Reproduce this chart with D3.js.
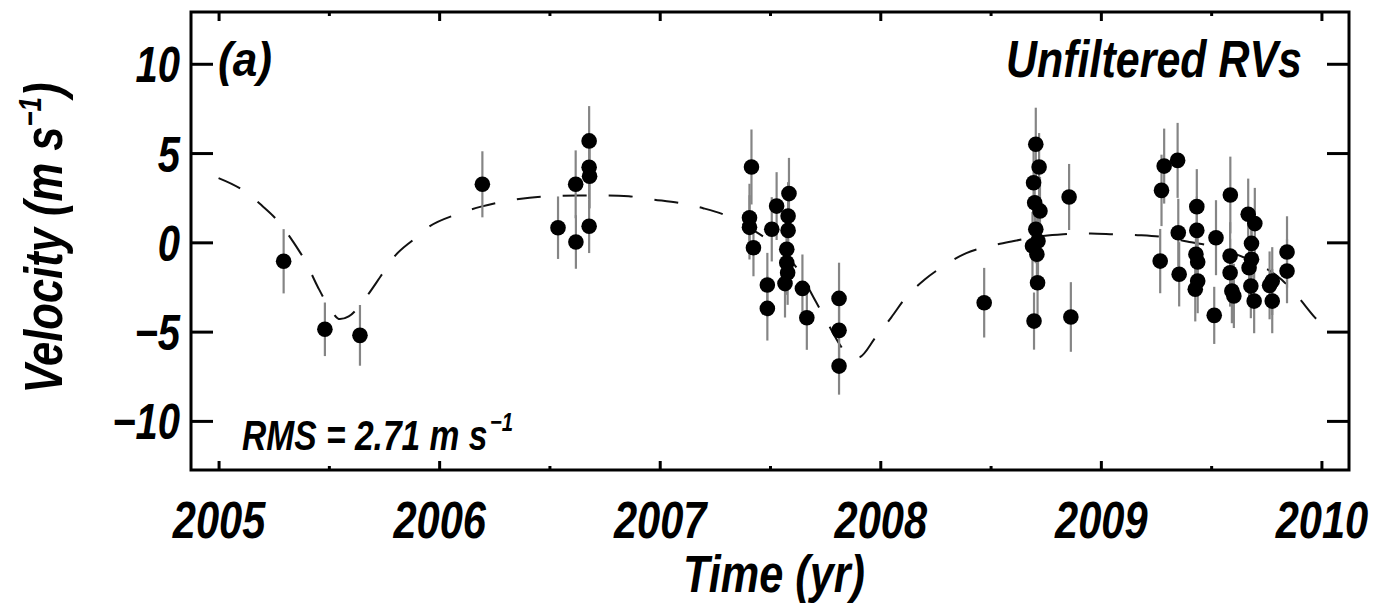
<!DOCTYPE html>
<html>
<head>
<meta charset="utf-8">
<script src="https://cdn.jsdelivr.net/npm/d3@7"></script>
<style>
  html, body { margin: 0; padding: 0; background: #fff; }
  svg text { font-family: "Liberation Sans", Arial, "Helvetica", sans-serif; font-weight: bold; font-style: italic; fill: #000; }
</style>
</head>
<body>
<svg id="chart" width="1380" height="606"></svg>
<script>
// ---- Data ----
const times = [
  2005.295, 2005.482, 2005.641, 2006.196,
  2006.539, 2006.619, 2006.620, 2006.680, 2006.680, 2006.682, 2006.680,
  2007.416, 2007.407, 2007.407, 2007.425, 2007.488, 2007.488, 2007.530, 2007.508,
  2007.586, 2007.582, 2007.582, 2007.576, 2007.576, 2007.580, 2007.568, 2007.647, 2007.667,
  2007.813, 2007.813, 2007.813,
  2008.471, 2008.705, 2008.720, 2008.695, 2008.700, 2008.724, 2008.705, 2008.715, 2008.690,
  2008.710, 2008.713, 2008.697, 2008.856, 2008.864,
  2009.287, 2009.275, 2009.269, 2009.348, 2009.351, 2009.355, 2009.435, 2009.435, 2009.431,
  2009.439, 2009.439, 2009.428, 2009.522, 2009.514, 2009.587, 2009.586, 2009.586, 2009.594,
  2009.603, 2009.668, 2009.698, 2009.683, 2009.683, 2009.672, 2009.680, 2009.695, 2009.777,
  2009.765, 2009.777, 2009.844, 2009.844
];
const velocities = [
  -1.06, -4.87, -5.21, 3.25,
  0.82, 3.25, 0.02, 5.68, 4.20, 3.70, 0.90,
  4.22, 1.38, 0.84, -0.30, -2.39, -3.70, 2.03, 0.73,
  2.73, 1.47, 0.67, -0.39, -1.14, -1.70, -2.31, -2.58, -4.22,
  -3.14, -4.93, -6.93,
  -3.38, 5.49, 4.22, 3.34, 2.22, 1.76, 0.73, 0.07, -0.20,
  -0.67, -2.26, -4.41, 2.54, -4.18,
  4.27, 2.91, -1.05, 4.59, 0.54, -1.79, 2.00, 0.67, -0.67,
  -1.10, -2.17, -2.63, 0.26, -4.09, 2.65, -0.77, -1.70, -2.73,
  -3.00, 1.57, 1.05, -0.06, -0.95, -1.42, -2.45, -3.29, -2.17,
  -2.41, -3.29, -0.54, -1.61
];
const errors = [
  1.8, 1.5, 1.7, 1.85,
  1.75, 1.9, 1.5, 1.95, 1.8, 1.8, 1.5,
  2.1, 1.9, 1.8, 1.6, 1.8, 1.8, 1.9, 1.8,
  2.0, 1.9, 1.9, 1.8, 1.8, 1.8, 1.9, 1.9, 1.8,
  2.0, 1.8, 1.6,
  1.95, 2.05, 1.9, 1.9, 1.9, 1.9, 1.9, 1.9, 1.9,
  1.9, 1.9, 1.6, 1.85, 1.95,
  2.1, 2.0, 1.8, 2.1, 1.9, 1.8, 2.1, 1.9, 1.8,
  1.8, 1.8, 1.8, 2.1, 1.6, 2.15, 1.9, 1.9, 1.8,
  1.8, 2.0, 2.0, 1.9, 1.8, 1.8, 1.8, 1.8, 1.9,
  1.9, 1.8, 2.0, 1.8
];
// Orbit model curve
const modelTimes = [
  2005.00, 2005.10, 2005.19, 2005.27, 2005.34, 2005.395, 2005.45, 2005.50, 2005.55, 2005.59,
  2005.667, 2005.735, 2005.794, 2005.885, 2005.95, 2006.08, 2006.19, 2006.30, 2006.41, 2006.53,
  2006.63, 2006.755, 2006.86, 2006.97, 2007.09, 2007.20, 2007.31, 2007.435, 2007.50, 2007.625,
  2007.707, 2007.76, 2007.82, 2007.85, 2007.90, 2007.98, 2008.05, 2008.115, 2008.20, 2008.29,
  2008.39, 2008.50, 2008.60, 2008.73, 2008.83, 2008.955, 2009.06, 2009.18, 2009.28, 2009.41,
  2009.50, 2009.62, 2009.71, 2009.82, 2009.89, 2009.97, 2010.00
];
const modelVelocities = [
  3.6, 3.0, 2.13, 1.18, 0.0, -1.1, -2.5, -3.6, -4.3, -4.15,
  -3.1, -1.9, -0.84, 0.17, 0.84, 1.57, 2.0, 2.3, 2.5, 2.6,
  2.63, 2.63, 2.58, 2.4, 2.2, 1.9, 1.46, 0.6, 0.05, -1.5,
  -3.3, -4.5, -5.8, -6.3, -6.45, -5.3, -4.2, -3.1, -2.1, -1.3,
  -0.6, -0.2, 0.06, 0.34, 0.45, 0.5, 0.45, 0.4, 0.3, 0.0,
  -0.2, -0.7, -1.2, -2.1, -3.0, -4.2, -4.6
];
const xTicks = [2005, 2006, 2007, 2008, 2009, 2010];
const xMinorTicks = [2005.5, 2006.5, 2007.5, 2008.5, 2009.5];
const yTicks = [-10, -5, 0, 5, 10];
const yTickLabels = ["\u221210", "\u22125", "0", "5", "10"];

// ---- Layout ----
const svg = d3.select("#chart");
const L = 191, R = 1349, T = 12, B = 470;
const x = d3.scaleLinear().domain([2004.875, 2010.125]).range([L, R]);
const y = d3.scaleLinear().domain([-12.75, 12.9]).range([B, T]);
const SQ = 0.8; // horizontal squeeze for a condensed look

// place a text at (px,py), squeezed horizontally so that its width equals w
function placeFit(sel, px, py, w, extra) {
  const nat = sel.node().getComputedTextLength();
  const k = w / nat;
  sel.attr("x", 0).attr("y", 0)
    .attr("transform", `translate(${px},${py})${extra || ""} scale(${k.toFixed(4)},1)`);
  return k;
}

// model curve
svg.append("path")
  .datum(modelTimes.map((t, i) => [t, modelVelocities[i]]))
  .attr("fill", "none")
  .attr("stroke", "#111")
  .attr("stroke-width", 2)
  .attr("stroke-dasharray", "24,22")
  .attr("d", d3.line().x(d => x(d[0])).y(d => y(d[1])).curve(d3.curveMonotoneX));

const pts = times.map((t, i) => ({ t, v: velocities[i], e: errors[i] }));

// error bars
svg.append("g").selectAll("line").data(pts).join("line")
  .attr("x1", d => x(d.t)).attr("x2", d => x(d.t))
  .attr("y1", d => y(d.v - d.e)).attr("y2", d => y(d.v + d.e))
  .attr("stroke", "#858585").attr("stroke-width", 2.2);

// points
svg.append("g").selectAll("circle").data(pts).join("circle")
  .attr("cx", d => x(d.t)).attr("cy", d => y(d.v)).attr("r", 7.8)
  .attr("fill", "#000");

// axes (ticks inward)
const axisStyle = g => {
  g.select(".domain").remove();
  g.selectAll(".tick line").attr("stroke", "#000").attr("stroke-width", 3);
};
svg.append("g").attr("transform", `translate(0,${B})`)
  .call(d3.axisBottom(x).tickValues(xTicks).tickSize(-9).tickFormat(d3.format("d")))
  .call(axisStyle)
  .call(g => g.selectAll(".tick text").attr("y", 68).attr("dy", 0)
    .attr("transform", `scale(${SQ},1)`)
    .style("font-size", "52px").attr("font-size", null).attr("font-family", null));
svg.append("g").attr("transform", `translate(0,${B})`)
  .call(d3.axisBottom(x).tickValues(xMinorTicks).tickSize(-4).tickFormat(""))
  .call(axisStyle);
svg.append("g").attr("transform", `translate(0,${T})`)
  .call(d3.axisTop(x).tickValues(xTicks).tickSize(-9).tickFormat(""))
  .call(axisStyle);
svg.append("g").attr("transform", `translate(0,${T})`)
  .call(d3.axisTop(x).tickValues(xMinorTicks).tickSize(-4).tickFormat(""))
  .call(axisStyle);
svg.append("g").attr("transform", `translate(${L},0)`)
  .call(d3.axisLeft(y).tickValues(yTicks).tickSize(-22).tickFormat((d, i) => yTickLabels[i]))
  .call(axisStyle)
  .call(g => g.selectAll(".tick text").attr("x", -11 / SQ).attr("dy", "0.36em")
    .attr("transform", `scale(${SQ},1)`)
    .style("font-size", "50px").attr("font-size", null).attr("font-family", null));
svg.append("g").attr("transform", `translate(${R},0)`)
  .call(d3.axisRight(y).tickValues(yTicks).tickSize(-22).tickFormat(""))
  .call(axisStyle);

// frame
svg.append("rect").attr("x", L).attr("y", T).attr("width", R - L).attr("height", B - T)
  .attr("fill", "none").attr("stroke", "#000").attr("stroke-width", 3);

// texts
const tA = svg.append("text").style("font-size", "48px").text("(a)");
placeFit(tA, 218, 76, 54);

const tU = svg.append("text").attr("text-anchor", "end").style("font-size", "52px").text("Unfiltered RVs");
placeFit(tU, 1302, 77, 296);

// RMS label: main part + separate superscript
const rmsMain = svg.append("text").style("font-size", "43px").text("RMS = 2.71 m s");
const rmsSup = svg.append("text").style("font-size", "26px").text("\u22121");
{
  const wM = rmsMain.node().getComputedTextLength();
  const wS = rmsSup.node().getComputedTextLength();
  const k = 271 / (wM + wS + 3);
  rmsMain.attr("transform", `translate(242,450) scale(${k.toFixed(4)},1)`);
  rmsSup.attr("transform", `translate(${(242 + (wM + 3) * k).toFixed(1)},431) scale(${k.toFixed(4)},1)`);
}

const tT = svg.append("text").attr("text-anchor", "middle").style("font-size", "52px").text("Time (yr)");
placeFit(tT, 774, 592, 182);

const yl = svg.append("text").attr("text-anchor", "middle").style("font-size", "54px");
yl.append("tspan").text("Velocity (m s");
yl.append("tspan").attr("dy", -21).style("font-size", "32px").text("\u22121");
yl.append("tspan").attr("dy", 21).text(")");
placeFit(yl, 62, 238, 311, " rotate(-90)");
</script>
</body>
</html>
